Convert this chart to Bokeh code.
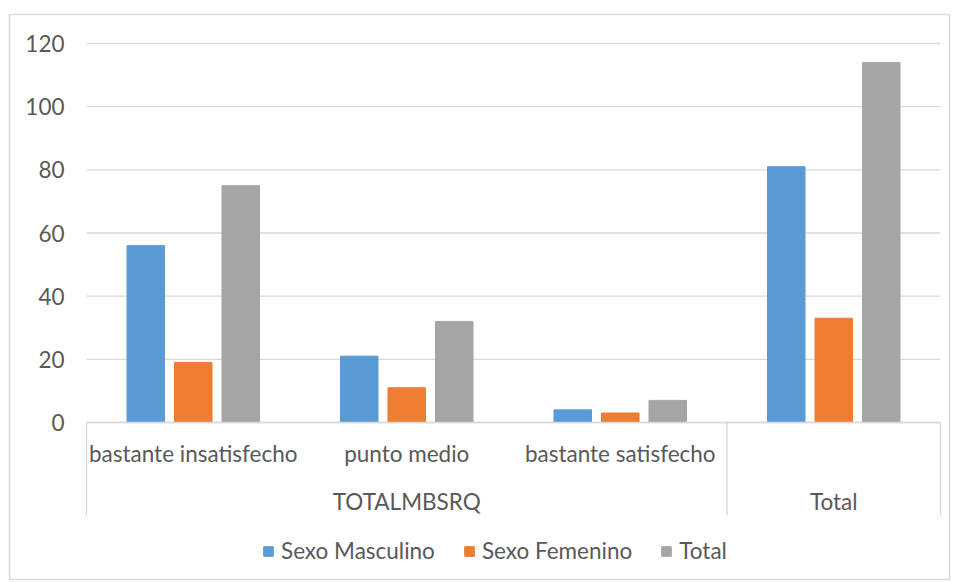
from bokeh.plotting import figure
from bokeh.models import ColumnDataSource, Range1d, Legend, LegendItem
from bokeh.embed import file_html
from bokeh.resources import INLINE
from bokeh.core.properties import value

# --- data -------------------------------------------------------------
categories = ["bastante insatisfecho", "punto medio", "bastante satisfecho", ""]
group_labels = ["TOTALMBSRQ", "Total"]
group_first = [0, 3]          # index of first category in each group
group_size = [3, 1]           # number of categories in each group
series_names = ["Sexo Masculino", "Sexo Femenino", "Total"]
masculino = [56, 21, 4, 81]
femenino = [19, 11, 3, 33]
total = [75, 32, 7, 114]
y_ticks = [0, 20, 40, 60, 80, 100, 120]

# --- styling ----------------------------------------------------------
colors = ["#5B9BD5", "#ED7D31", "#A5A5A5"]
text_color = "#595959"
grid_color = "#D9D9D9"
font = value("Lato")
font_size = "22.5px"

W, H = 955, 582
# chart box (outer border) and plot-area in pixels
box_l, box_r, box_t, box_b = 9, 949, 14, 579
area_l, area_r, area_t, area_b = 86, 940, 43, 422
n_cat = len(categories)
y_max = y_ticks[-1]
px_x = (area_r - area_l) / n_cat
px_y = (area_b - area_t) / y_max

x_range = Range1d((box_l - area_l) / px_x, (box_r - area_l) / px_x)
y_range = Range1d(-(box_b - area_b) / px_y, y_max + (area_t - box_t) / px_y)

p = figure(width=W, height=H, x_range=x_range, y_range=y_range,
           output_backend="svg", toolbar_location=None,
           min_border_left=box_l, min_border_right=W - box_r,
           min_border_top=box_t, min_border_bottom=H - box_b)
p.xaxis.visible = False
p.yaxis.visible = False
p.xgrid.visible = False
p.ygrid.visible = False
p.outline_line_color = grid_color
p.outline_line_width = 1.5
p.background_fill_color = "white"
p.border_fill_color = "white"

# horizontal gridlines
p.segment(x0=[0] * len(y_ticks), x1=[n_cat] * len(y_ticks), y0=y_ticks, y1=y_ticks,
          line_color=grid_color, line_width=1.3)

# y tick labels
p.text(x=[-22 / px_x] * len(y_ticks), y=y_ticks, text=[str(t) for t in y_ticks],
       text_align="right", text_baseline="middle", text_font=font,
       text_font_size=font_size, text_color=text_color)

# bars
offset = 47.5 / px_x
bar_w = 37.5 / px_x
bar_renderers = []
for k, (vals, col) in enumerate(zip([masculino, femenino, total], colors)):
    xs = [i + 0.5 + (k - 1) * offset for i in range(n_cat)]
    src = ColumnDataSource(dict(x=xs, top=vals))
    r = p.vbar(x="x", top="top", width=bar_w, bottom=0, source=src,
               fill_color=col, line_color=col)
    bar_renderers.append(r)

# multi-level category axis
axis_depth = -(515 - area_b) / px_y
bounds = sorted(set(group_first + [n_cat]))
p.segment(x0=bounds, x1=bounds, y0=[0] * len(bounds), y1=[axis_depth] * len(bounds),
          line_color=grid_color, line_width=1.3)
p.segment(x0=[0], x1=[n_cat], y0=[0], y1=[0], line_color=grid_color, line_width=1.3)

p.text(x=[i + 0.5 for i in range(n_cat)], y=[-(453 - area_b) / px_y] * n_cat,
       text=categories, text_align="center", text_baseline="middle",
       text_font=font, text_font_size=font_size, text_color=text_color)
p.text(x=[f + s / 2 for f, s in zip(group_first, group_size)],
       y=[-(501 - area_b) / px_y] * len(group_labels),
       text=group_labels, text_align="center", text_baseline="middle",
       text_font=font, text_font_size=font_size, text_color=text_color)

# legend
legend = Legend(items=[LegendItem(label=n, renderers=[r]) for n, r in zip(series_names, bar_renderers)],
                orientation="horizontal", location=(262 - box_l, box_b - 564),
                padding=0, margin=0, spacing=28, label_standoff=7,
                glyph_width=12, glyph_height=12, label_height=20,
                label_text_font="Lato", label_text_font_size=font_size,
                label_text_color=text_color, border_line_color=None,
                background_fill_alpha=0)
p.add_layout(legend)

open("out.html", "w").write(file_html(p, INLINE))
